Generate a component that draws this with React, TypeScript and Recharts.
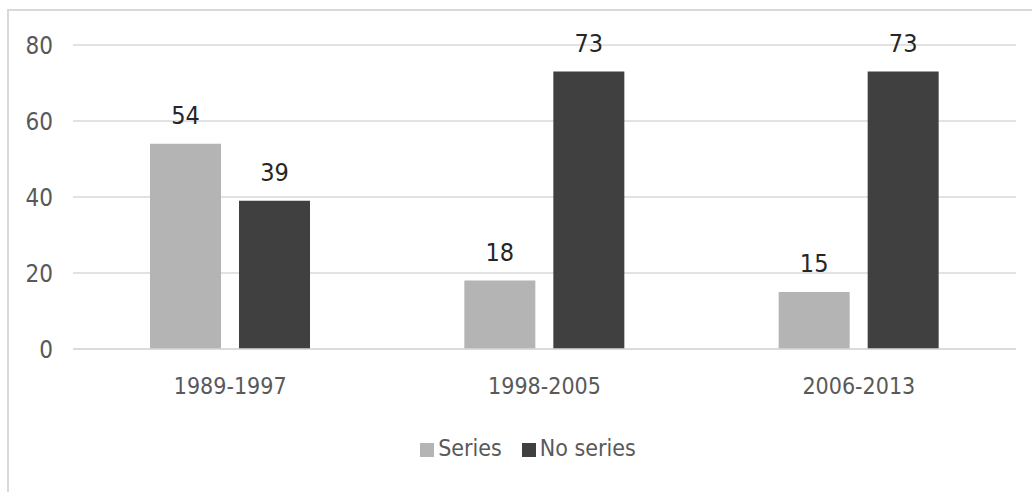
import React from 'react'
import { BarChart, Bar, XAxis, YAxis, CartesianGrid, Legend, LabelList } from 'recharts'

const periods = ['1989-1997', '1998-2005', '2006-2013']
const seriesValues = [54, 18, 15]
const noSeriesValues = [39, 73, 73]
const yTicks = [0, 20, 40, 60, 80]
const legendOrder = ['Series', 'No series']

const data = periods.map((p, i) => ({ period: p, series: seriesValues[i], noSeries: noSeriesValues[i] }))

const FONT = '"Liberation Sans Narrow", "DejaVu Sans Condensed", sans-serif'
const LIGHT = '#b4b4b4'
const DARK = '#404040'
const GRID = '#d9d9d9'

export default function App() {
  const tickStyle = { fontFamily: FONT, fontSize: 23, fill: '#595959' }
  const yTickStyle = { ...tickStyle, fontSize: 24 }
  const labelStyle = { fontFamily: FONT, fontSize: 25, fill: '#262626' }

  return (
    <div style={{ position: 'absolute', left: 0, top: 0, width: 1032, height: 492, background: '#fff', overflow: 'hidden' }}>
      {/* chart frame: only top and left edges fall inside the picture */}
      <div style={{ position: 'absolute', left: 7, top: 9, width: 1100, height: 600, borderTop: `2px solid ${GRID}`, borderLeft: `2px solid ${GRID}` }} />
      <div style={{ position: 'absolute', left: 0, top: 0 }}>
        <BarChart width={1032} height={492} data={data} margin={{ top: 45, right: 16, bottom: 0, left: 0 }} barSize={71} barGap={18}>
          <CartesianGrid stroke={GRID} strokeWidth={1.5} vertical={false} />
          <XAxis dataKey="period" tick={tickStyle} axisLine={{ stroke: GRID, strokeWidth: 1.5 }} tickLine={false} height={143} tickMargin={23} />
          <YAxis domain={[0, 80]} ticks={yTicks} tick={yTickStyle} axisLine={false} tickLine={false} width={73} tickMargin={14} />
          <Legend
            verticalAlign="middle"
            iconType="square"
            iconSize={14}
            itemSorter={(item: any) => legendOrder.indexOf(item.value)}
            wrapperStyle={{ top: 435, left: 22, width: 1032, fontFamily: FONT, fontSize: 23 }}
            formatter={(v: string) => <span style={{ color: '#595959', marginRight: 10 }}>{v}</span>}
          />
          <Bar dataKey="series" name="Series" fill={LIGHT} isAnimationActive={false}>
            <LabelList dataKey="series" position="top" offset={20} style={labelStyle} />
          </Bar>
          <Bar dataKey="noSeries" name="No series" fill={DARK} isAnimationActive={false}>
            <LabelList dataKey="noSeries" position="top" offset={20} style={labelStyle} />
          </Bar>
        </BarChart>
      </div>
    </div>
  )
}
